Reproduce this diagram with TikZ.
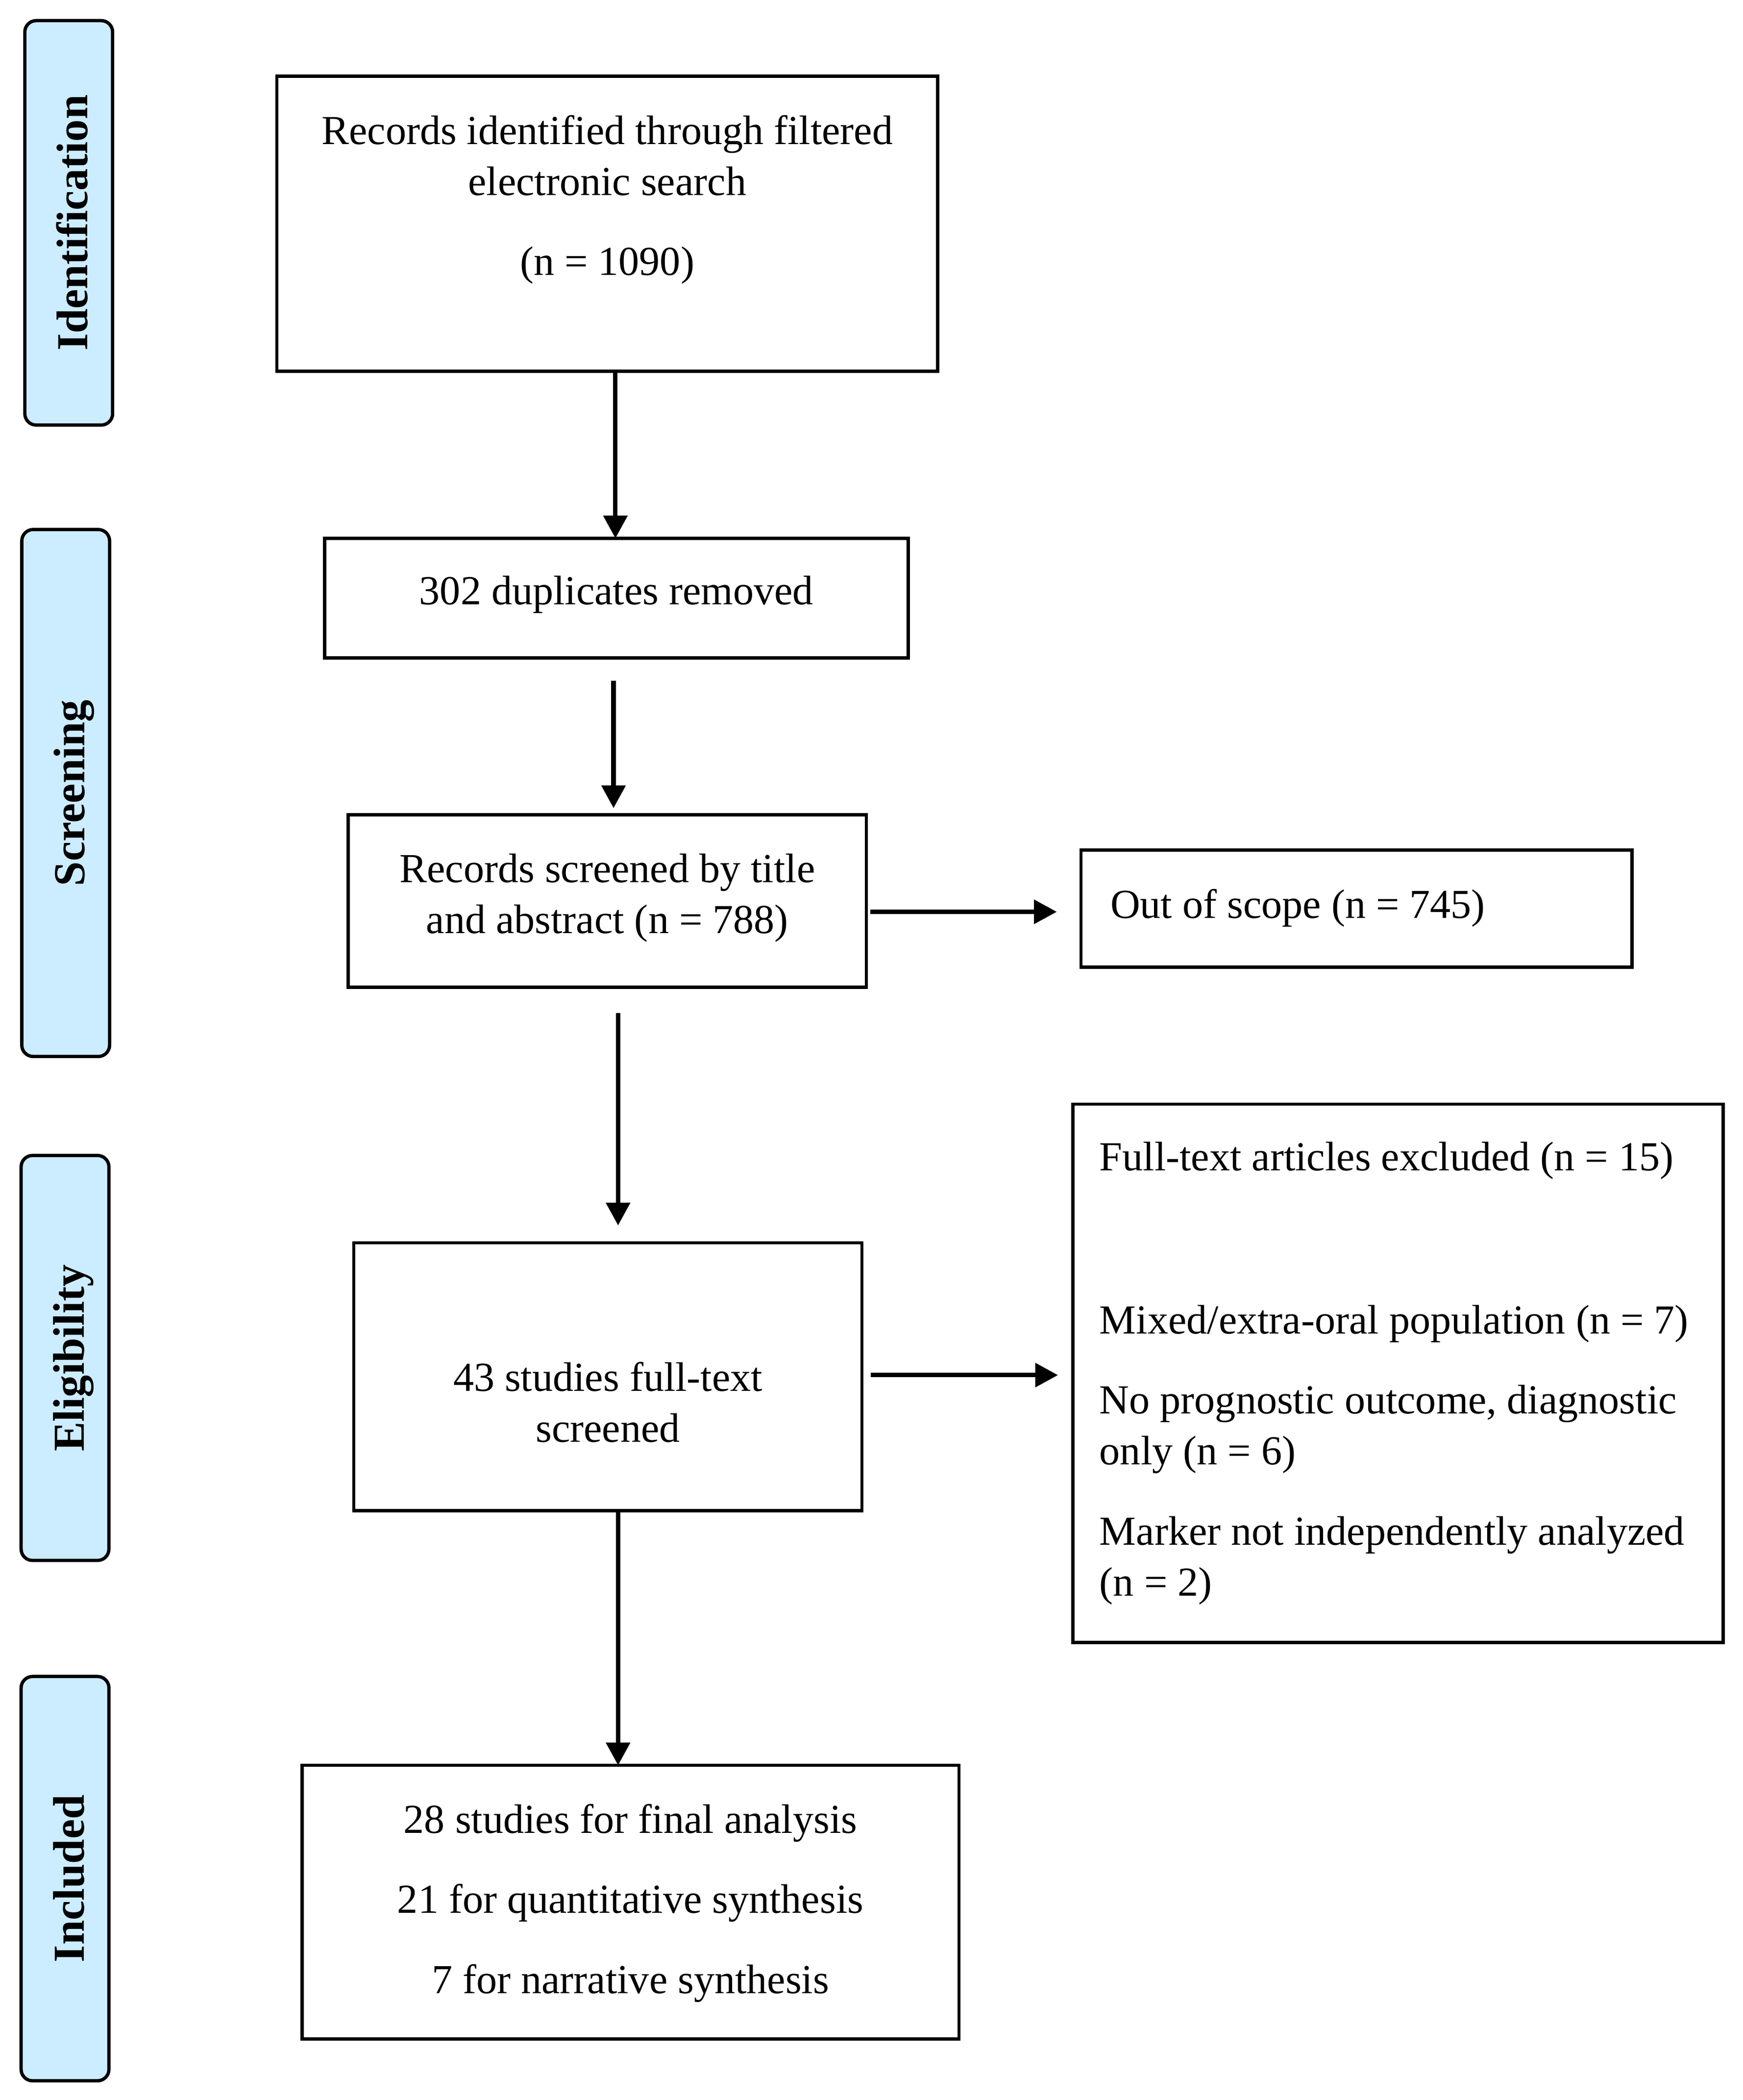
\documentclass[tikz,border=0pt]{standalone}
\usepackage{fontspec}
\setmainfont{Liberation Serif}
\usetikzlibrary{arrows.meta}
\definecolor{pillblue}{RGB}{204,236,255}
\newcommand{\bodyfont}{\fontsize{8.75pt}{10.8pt}\selectfont}
\newcommand{\stagefont}{\fontsize{9.4pt}{11pt}\selectfont\bfseries}
\tikzset{
  stage/.style={draw, line width=0.7pt, fill=pillblue, rounded corners=0.85mm, rotate=90,
    inner sep=0pt, minimum height=0.655cm, text height=8pt, text depth=0pt, font=\stagefont},
  box/.style={draw, line width=0.7pt, anchor=north west, inner ysep=0pt, inner xsep=0.1cm,
    outer sep=0pt, align=center, font=\bodyfont, execute at begin node={\spaceskip=0.25em\relax}},
  sidebox/.style={box, align=left, inner xsep=0.22cm},
  flow/.style={line width=0.95pt, -{Triangle[length=1.7mm,width=1.75mm]}}
}
\begin{document}
\begin{tikzpicture}
\useasboundingbox (0,0) rectangle (13,-15.661);
\foreach \nm/\txt/\x/\y/\len in {idlab/Identification/0.5125/-1.662/3.016,
    scrlab/Screening/0.49/-5.914/3.93, eliglab/Eligibility/0.485/-10.127/3.02,
    incllab/Included/0.485/-14.01/3.015} {
    \node[stage, minimum width=\len cm] (\nm) at (\x,\y) {\txt};
}
\node[box, text width=4.728cm, text height=0.508cm, text depth=1.692cm] (records) at (2.065,-0.569)
    {Records identified through filtered\\electronic search\\[6.2pt](n = 1090)};
\node[box, text width=4.154cm, text height=0.495cm, text depth=0.398cm] (dupl) at (2.42,-4.015)
    {302 duplicates removed};
\node[box, text width=3.665cm, text height=0.503cm, text depth=0.784cm] (screened) at (2.597,-6.077)
    {Records screened by title\\and abstract (n = 788)};
\node[sidebox, text width=3.669cm, text height=0.507cm, text depth=0.365cm] (scope) at (8.062,-6.34)
    {Out of scope (n = 745)};
\node[box, text width=3.59cm, text height=1.105cm, text depth=0.892cm] (fulltext) at (2.639,-9.269)
    {43 studies full-text\\screened};
\node[sidebox, inner xsep=0.2cm, text width=4.45cm, text height=0.496cm, text depth=3.519cm] (excluded) at (8.001,-8.234)
    {Full-text articles excluded (n = 15)\\[23.8pt]Mixed/extra-oral population (n = 7)\\[6.2pt]No prognostic outcome, diagnostic\\only (n = 6)\\[6.2pt]Marker not independently analyzed\\(n = 2)};
\node[box, text width=4.70cm, text height=0.505cm, text depth=1.537cm] (final) at (2.252,-13.165)
    {28 studies for final analysis\\[6.2pt]21 for quantitative synthesis\\[6.2pt]7 for narrative synthesis};
\draw[flow] (records.south -| 4.59,0) -- (dupl.north -| 4.59,0);
\draw[flow, shorten <=0.17cm, shorten >=0.05cm] (dupl.south -| 4.576,0) -- (screened.north -| 4.576,0);
\draw[flow, shorten <=0.03cm, shorten >=0.18cm] (screened.east |- 0,-6.80) -- (scope.west |- 0,-6.80);
\draw[flow, shorten <=0.19cm, shorten >=0.13cm] (screened.south -| 4.61,0) -- (fulltext.north -| 4.61,0);
\draw[flow, shorten <=0.065cm, shorten >=0.11cm] (fulltext.east |- 0,-10.255) -- (excluded.west |- 0,-10.255);
\draw[flow] (fulltext.south -| 4.61,0) -- (final.north -| 4.61,0);
\end{tikzpicture}
\end{document}
